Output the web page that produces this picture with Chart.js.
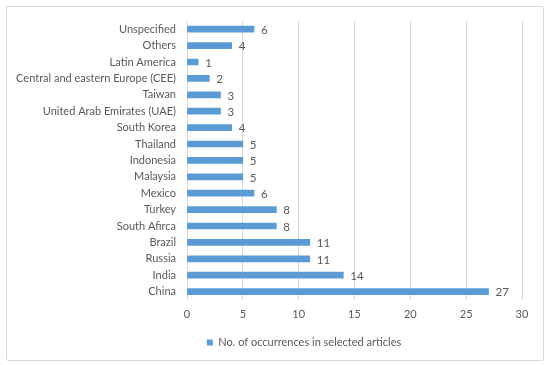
<!DOCTYPE html>
<html>
<head>
<meta charset="utf-8">
<script src="https://cdn.jsdelivr.net/npm/chart.js@4/dist/chart.umd.min.js"></script>
<style>
  html, body { margin: 0; padding: 0; background: #fff; }
  #wrap { position: relative; width: 550px; height: 365px; }
  #frame { position: absolute; left: 6px; top: 6px; width: 536px; height: 353px; border: 1px solid #D9D9D9; border-radius: 2px; }
  canvas { position: absolute; left: 0; top: 0; }
</style>
</head>
<body>
<div id="wrap">
  <div id="frame"></div>
  <canvas id="c" width="550" height="365"></canvas>
</div>
<script>
const categories = ["Unspecified", "Others", "Latin America", "Central and eastern Europe (CEE)", "Taiwan",
  "United Arab Emirates (UAE)", "South Korea", "Thailand", "Indonesia", "Malaysia", "Mexico",
  "Turkey", "South Afirca", "Brazil", "Russia", "India", "China"];
const occurrences = [6, 4, 1, 2, 3, 3, 4, 5, 5, 5, 6, 8, 8, 11, 11, 14, 27];
const seriesName = "No. of occurrences in selected articles";
const xTicks = [0, 5, 10, 15, 20, 25, 30];

const FONT = "Lato, 'Open Sans', sans-serif";
const TEXT = "#595959";

const valueLabels = {
  id: "valueLabels",
  afterDatasetsDraw(chart) {
    const ctx = chart.ctx;
    const meta = chart.getDatasetMeta(0);
    ctx.save();
    ctx.font = "11.5px " + FONT;
    ctx.fillStyle = TEXT;
    ctx.textAlign = "left";
    ctx.textBaseline = "middle";
    meta.data.forEach((bar, i) => {
      ctx.fillText(String(occurrences[i]), bar.x + 7, bar.y + 1);
    });
    ctx.restore();
  }
};

const legendShift = {
  id: "legendShift",
  afterLayout(chart) {
    if (chart.legend) {
      chart.legend.left += 43;
      chart.legend.right += 43;
    }
  }
};

new Chart(document.getElementById("c"), {
  type: "bar",
  data: {
    labels: categories,
    datasets: [{
      label: seriesName,
      data: occurrences,
      backgroundColor: "#5B9BD5",
      borderWidth: 0,
      barThickness: 6
    }]
  },
  options: {
    indexAxis: "y",
    responsive: false,
    animation: false,
    layout: { padding: { left: 0, right: 28, top: 21, bottom: 7 } },
    plugins: {
      legend: {
        position: "bottom",
        labels: {
          color: TEXT,
          font: { family: FONT, size: 11 },
          boxWidth: 6,
          boxHeight: 6,
          padding: 8
        }
      },
      tooltip: { enabled: false }
    },
    scales: {
      x: {
        min: 0, max: 30,
        afterBuildTicks(scale) { scale.ticks = xTicks.map(v => ({ value: v })); },
        ticks: { color: TEXT, font: { family: FONT, size: 11 }, padding: 8 },
        grid: { color: "#D9D9D9", drawTicks: false, lineWidth: 1 },
        border: { display: false }
      },
      y: {
        afterFit(scale) { scale.width = 187; },
        ticks: { color: TEXT, font: { family: FONT, size: 11 }, padding: 11, autoSkip: false },
        grid: { display: false, drawTicks: false },
        border: { display: false }
      }
    }
  },
  plugins: [valueLabels, legendShift]
});
</script>
</body>
</html>
